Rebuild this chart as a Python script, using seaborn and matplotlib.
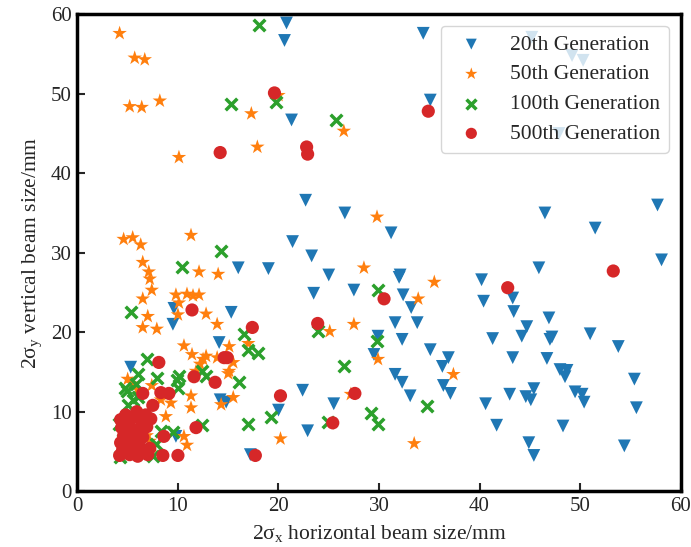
import matplotlib
matplotlib.use("Agg")
import matplotlib.pyplot as plt
import seaborn as sns
import pandas as pd

sns.set_theme(style="white")
plt.rcParams['font.family'] = ['Liberation Serif', 'DejaVu Serif']
plt.rcParams['mathtext.fontset'] = 'custom'
plt.rcParams['mathtext.rm'] = 'Liberation Serif'
plt.rcParams['mathtext.it'] = 'Liberation Serif:italic'

labels = ["20th Generation", "50th Generation", "100th Generation", "500th Generation"]

g20_x = [20.8, 20.6, 34.4, 35.1, 45.2, 49.2, 50.3, 47.9, 21.3, 22.7, 26.6, 21.4, 31.2, 32.0, 46.5, 57.7,
         51.5, 23.3, 16.0, 19.0, 25.0, 23.5, 27.5, 9.6, 15.3, 9.5, 14.1, 5.3, 22.4, 20.0, 14.2, 14.8,
         25.5, 22.9, 9.8, 17.2, 58.1, 45.9, 32.1, 40.2, 32.4, 40.4, 43.3, 33.2, 43.4, 46.9, 31.6, 33.8,
         44.7, 51.0, 44.2, 47.2, 47.0, 41.3, 32.3, 53.8, 29.9, 35.1, 36.9, 36.3, 29.5, 43.3, 46.7, 48.0,
         48.7, 48.5, 31.6, 32.3, 36.4, 37.1, 45.4, 44.6, 45.1, 43.0, 49.5, 50.2, 50.4, 55.4, 55.6, 33.1,
         40.6, 41.7, 48.3, 44.9, 45.4, 54.4]
g20_y = [58.9, 56.7, 57.6, 49.2, 57.1, 54.8, 54.2, 45.0, 46.7, 36.6, 35.0, 31.4, 32.5, 26.9, 35.0, 36.0,
         33.1, 29.6, 28.1, 28.0, 27.2, 24.9, 25.3, 23.0, 22.5, 21.0, 18.7, 15.6, 12.7, 10.2, 11.5, 11.2,
         11.0, 7.6, 6.9, 4.6, 29.1, 28.1, 27.2, 26.6, 24.7, 23.9, 24.3, 23.1, 22.6, 21.8, 21.2, 21.2,
         20.7, 19.8, 19.5, 19.4, 19.1, 19.2, 19.1, 18.2, 19.5, 17.8, 16.8, 15.7, 17.2, 16.8, 16.7, 15.3,
         15.2, 14.4, 14.7, 13.7, 13.3, 12.3, 12.9, 11.9, 11.5, 12.2, 12.5, 12.2, 11.2, 14.1, 10.5, 12.0,
         11.0, 8.3, 8.2, 6.1, 4.5, 5.7]

g50_x = [4.2, 5.7, 6.7, 5.2, 6.4, 8.2, 17.3, 20.0, 26.5, 17.9, 10.1, 29.8, 4.6, 5.5, 6.3, 11.3,
         6.5, 7.1, 7.2, 12.1, 14.0, 28.5, 7.4, 6.5, 9.8, 10.9, 11.5, 12.1, 10.1, 10.0, 12.8, 7.0,
         6.5, 7.9, 13.9, 10.6, 11.4, 12.5, 12.2, 12.8, 15.1, 13.9, 15.5, 15.1, 17.0, 25.1, 27.5, 29.9,
         5.0, 11.3, 11.3, 14.3, 15.5, 8.8, 9.3, 7.2, 7.5, 6.9, 10.6, 10.9, 20.2, 27.2, 35.5, 33.9,
         37.4, 33.5, 5.5, 6.0, 8.3, 7.4, 11.8, 15.0]
g50_y = [57.6, 54.5, 54.3, 48.4, 48.3, 49.1, 47.5, 49.8, 45.3, 43.3, 42.0, 34.5, 31.7, 31.9, 31.0, 32.2,
         28.8, 27.6, 26.7, 27.6, 27.3, 28.1, 25.3, 24.2, 24.7, 24.8, 24.6, 24.7, 23.7, 22.2, 22.3, 22.0,
         20.6, 20.4, 21.0, 18.3, 17.2, 16.6, 16.0, 17.0, 18.2, 16.8, 16.2, 15.1, 18.6, 20.1, 21.0, 16.6,
         14.1, 12.0, 10.5, 10.9, 11.8, 9.4, 11.1, 6.3, 5.6, 7.0, 6.9, 5.8, 6.6, 12.2, 26.3, 24.2,
         14.7, 6.0, 13.5, 12.8, 11.5, 13.3, 15.1, 14.8]

g100_x = [18.1, 15.3, 19.8, 25.7, 14.3, 10.4, 5.3, 16.6, 23.9, 17.0, 18.0, 6.9, 6.0, 7.9, 9.9, 10.1,
          10.0, 12.8, 12.4, 16.1, 26.5, 19.3, 17.0, 12.4, 8.3, 9.5, 24.9, 29.2, 29.9, 29.9, 29.8, 34.8,
          5.0, 4.9, 4.2, 4.5, 4.1, 5.5, 4.7, 6.0, 7.5, 7.8, 5.8]
g100_y = [58.7, 48.7, 49.0, 46.7, 30.2, 28.2, 22.6, 19.8, 20.1, 17.8, 17.4, 16.6, 14.7, 14.2, 14.0, 14.5,
          13.0, 14.5, 15.1, 13.7, 15.7, 9.3, 8.5, 8.3, 7.6, 7.4, 8.7, 9.9, 8.4, 25.3, 18.9, 10.7,
          10.9, 12.6, 4.3, 6.5, 8.5, 11.5, 13.0, 11.8, 4.4, 6.0, 13.5]

g500_x = [19.6, 14.2, 22.8, 22.9, 34.9, 11.4, 17.4, 23.9, 8.1, 14.6, 14.9, 11.6, 13.7, 6.5, 8.3, 9.1,
          7.5, 20.2, 27.6, 25.4, 11.8, 8.6, 8.5, 10.0, 17.7, 30.5, 42.8, 53.3,
          4.2, 4.5, 4.3, 4.6, 4.4, 4.3, 4.8, 5.2, 5.5, 5.3, 5.6, 5.1, 5.7, 6.0, 6.3, 6.1,
          6.5, 6.2, 6.6, 5.9, 7.0, 7.2, 6.9, 7.3, 4.9, 5.0, 6.8]
g500_y = [50.1, 42.6, 43.3, 42.4, 47.8, 22.8, 20.6, 21.1, 16.2, 16.8, 16.8, 14.4, 13.7, 12.3, 12.4, 12.3,
          10.8, 12.0, 12.3, 8.6, 8.0, 6.9, 4.5, 4.5, 4.5, 24.2, 25.6, 27.7,
          4.5, 5.2, 6.1, 7.0, 8.0, 9.0, 9.6, 4.6, 5.5, 6.5, 7.4, 8.4, 9.3, 4.4, 5.1, 6.0,
          6.8, 7.9, 8.7, 10.0, 4.6, 5.4, 8.1, 9.1, 5.8, 7.6, 9.6]

series = [
    (labels[0], g20_x, g20_y, "#1f77b4", "v", 85),
    (labels[1], g50_x, g50_y, "#ff7f0e", "*", 120),
    (labels[2], g100_x, g100_y, "#2ca02c", "x", 70),
    (labels[3], g500_x, g500_y, "#d62728", "o", 90),
]

fig, ax = plt.subplots(figsize=(6.91, 5.47), dpi=100)
fig.subplots_adjust(left=0.112, right=0.985, top=0.974, bottom=0.102)

for name, xs, ys, col, mk, sz in series:
    df = pd.DataFrame({"x": xs, "y": ys})
    if mk == "x":
        sns.scatterplot(data=df, x="x", y="y", ax=ax, color=col, marker=mk, s=sz,
                        linewidth=2.5, label=name)
    else:
        sns.scatterplot(data=df, x="x", y="y", ax=ax, color=col, marker=mk, s=sz,
                        edgecolor="none", linewidth=0, label=name)

ax.set_xlim(0, 60)
ax.set_ylim(0, 60)
ax.set_xticks(range(0, 61, 10))
ax.set_yticks(range(0, 61, 10))
ax.set_xlabel("2σ$_\\mathrm{x}$ horizontal beam size/mm", fontsize=15.5, labelpad=5)
ax.set_ylabel("2σ$_\\mathrm{y}$ vertical beam size/mm", fontsize=15.5, labelpad=5)
ax.tick_params(axis="both", direction="in", length=6, width=1.5, labelsize=15,
               bottom=True, left=True, top=False, right=False, pad=4)
for sp in ax.spines.values():
    sp.set_linewidth(2.5)
    sp.set_color("black")

leg = ax.legend(loc="upper right", fontsize=15.5, frameon=True, framealpha=0.8,
                borderpad=0.4, labelspacing=0.45, handletextpad=0.8, borderaxespad=0.55,
                markerscale=0.85)
leg.get_frame().set_edgecolor("#cccccc")

fig.savefig("out.png", dpi=100)
